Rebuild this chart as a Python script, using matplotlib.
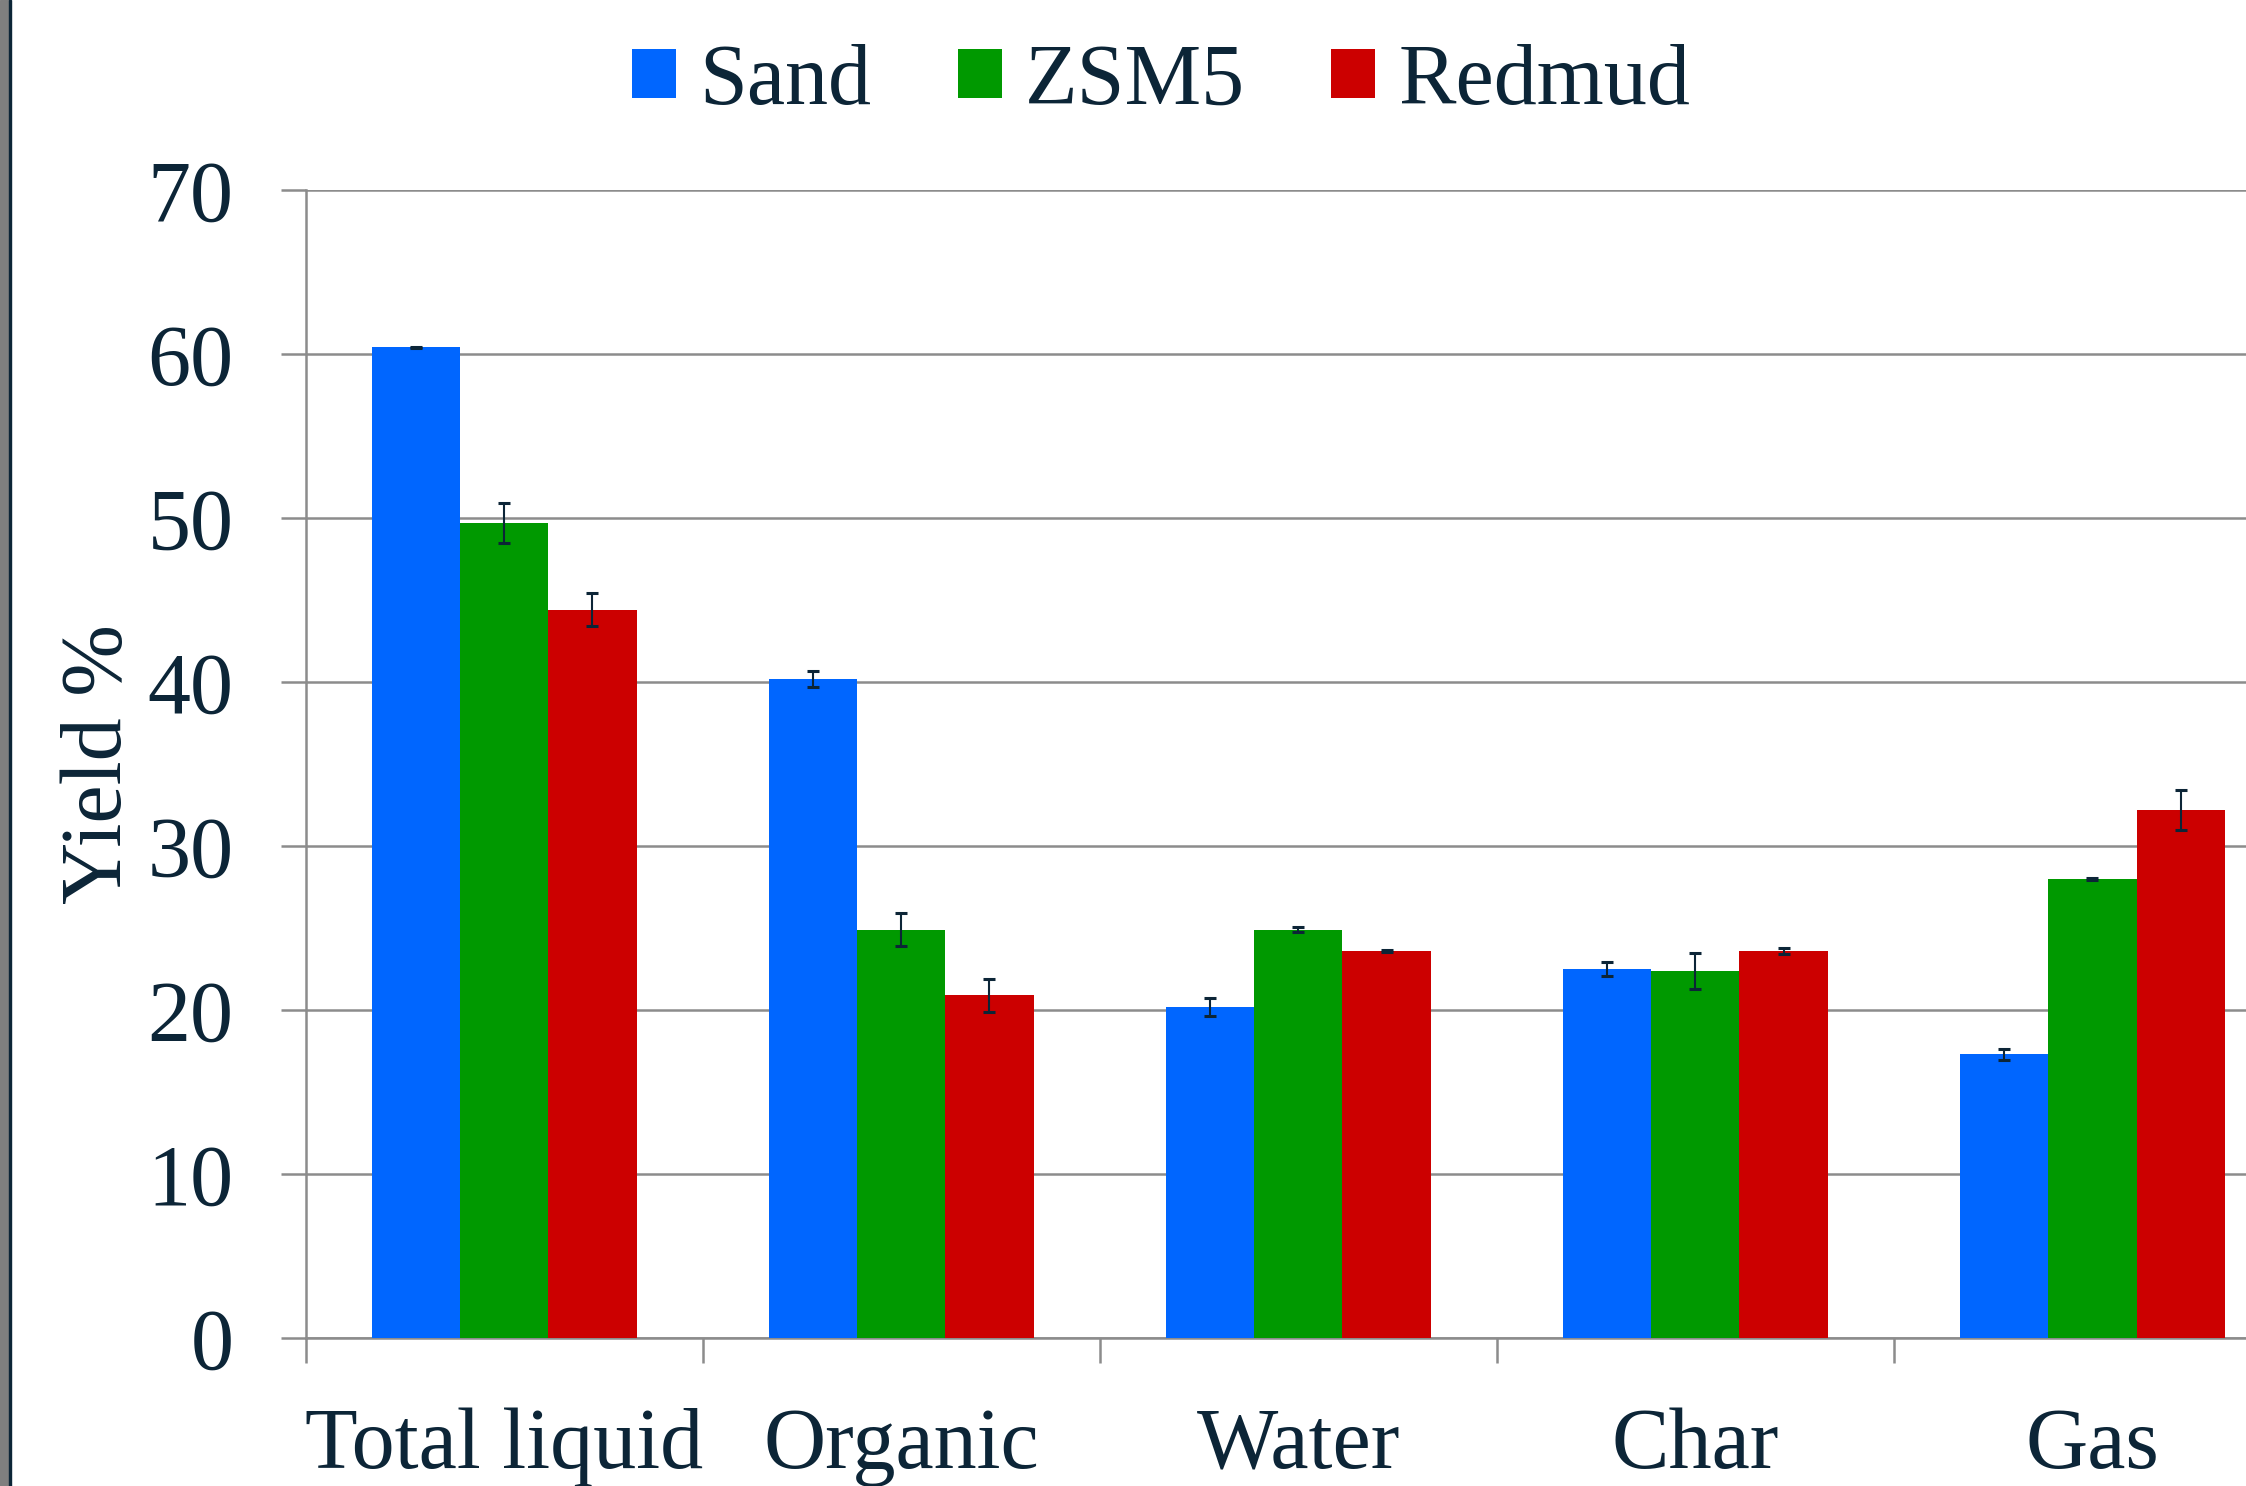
import matplotlib
matplotlib.use('Agg')
import matplotlib.pyplot as plt
from matplotlib.patches import Rectangle
import numpy as np

plt.rcParams['font.family'] = ['Liberation Serif', 'DejaVu Serif']

categories = ['Total liquid', 'Organic', 'Water', 'Char', 'Gas']
series = ['Sand', 'ZSM5', 'Redmud']
sand = [60.4, 40.2, 20.2, 22.5, 17.3]
zsm5 = [49.7, 24.9, 24.9, 22.4, 28.0]
redmud = [44.4, 20.9, 23.6, 23.6, 32.2]
sand_err = [0.05, 0.5, 0.55, 0.45, 0.35]
zsm5_err = [1.2, 1.0, 0.15, 1.1, 0.05]
redmud_err = [1.0, 1.0, 0.05, 0.2, 1.2]
colors = ['#0066FF', '#009900', '#CC0000']

text_c = '#0C2537'
grid_c = '#8C8C8C'
fs = 62

fig = plt.figure(figsize=(22.46, 14.86), dpi=100)
ax = fig.add_axes([0.1361, 0.0996, 0.8839, 0.7725])

x = np.arange(len(categories))
w = 1 / 4.5
for i, (vals, errs) in enumerate(zip([sand, zsm5, redmud],
                                     [sand_err, zsm5_err, redmud_err])):
    ax.bar(x + (i - 1) * w, vals, w, color=colors[i], label=series[i],
           zorder=3)
    ax.errorbar(x + (i - 1) * w, vals, yerr=errs, fmt='none', ecolor=text_c,
                elinewidth=1.5, capsize=4.3, capthick=2.2, zorder=4)

ax.set_xlim(-0.5, len(categories) - 0.5)
ax.set_ylim(0, 70)
ax.set_yticks(range(0, 71, 10))
ax.set_xticks(x)
ax.set_xticklabels(categories)
ax.set_xticks(np.arange(-0.5, len(categories), 1), minor=True)
ax.tick_params(axis='x', which='major', length=0, pad=50,
               labelsize=fs, labelcolor=text_c)
ax.tick_params(axis='x', which='minor', length=18, width=1.8,
               color=grid_c, direction='out')
ax.tick_params(axis='y', length=18, width=1.8, color=grid_c,
               direction='out', pad=34, labelsize=fs, labelcolor=text_c)
ax.yaxis.grid(True, color=grid_c, linewidth=1.8, zorder=0)
ax.set_axisbelow(True)
for s in ['top', 'right']:
    ax.spines[s].set_visible(False)
for s in ['left', 'bottom']:
    ax.spines[s].set_color(grid_c)
    ax.spines[s].set_linewidth(1.8)

ax.set_ylabel('Yield %', fontsize=fs, color=text_c, labelpad=5)

fig.legend(loc='center', bbox_to_anchor=(0.517, 0.944), ncol=3,
           frameon=False, fontsize=fs, handlelength=0.51, handleheight=0.51,
           handletextpad=0.27, columnspacing=1.0, labelcolor=text_c)

# left border of the original slide
fig.patches.append(Rectangle((0, 0), 8.5 / 2246, 1, transform=fig.transFigure,
                             color='#7F7F7F', zorder=10))
fig.patches.append(Rectangle((8.5 / 2246, 0), 2.2 / 2246, 1,
                             transform=fig.transFigure, color=text_c,
                             zorder=10))

fig.savefig('out.png', dpi=100)
